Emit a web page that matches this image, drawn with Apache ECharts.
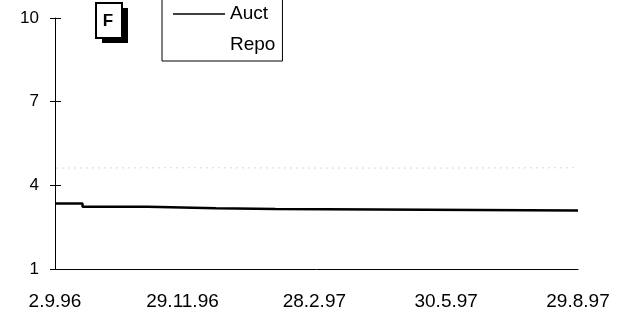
<!DOCTYPE html>
<html>
<head>
<meta charset="utf-8">
<script src="https://cdn.jsdelivr.net/npm/echarts@6/dist/echarts.min.js"></script>
<style>
    html, body { margin: 0; padding: 0; background: #fff; }
    #chart { width: 623px; height: 318px; }
</style>
</head>
<body>
<div id="chart"></div>
<script>
    // days counted from 2.9.96
    var tickDays = [0, 88, 179, 270, 361];
    var tickLabels = ['2.9.96', '29.11.96', '28.2.97', '30.5.97', '29.8.97'];

    // Auct: step line, value changes at these days
    var auctDays = [0, 19, 64, 111, 152, 361];
    var auctValues = [3.35, 3.23, 3.18, 3.15, 3.10, 3.10];

    // Repo: faint dotted line
    var repoDays = [1, 90, 180, 270, 358];
    var repoValues = [4.62, 4.63, 4.62, 4.62, 4.63];

    var yTicks = [1, 4, 7, 10];

    function pairs(xs, ys) {
        return xs.map(function (x, i) { return [x, ys[i]]; });
    }

    var font = '"Liberation Sans", Arial, sans-serif';

    var chart = echarts.init(document.getElementById('chart'));
    chart.setOption({
        animation: false,
        grid: { left: 55, right: 45, top: 18, bottom: 49 },
        legend: {
            orient: 'vertical',
            left: 162,
            top: -6,
            padding: [10, 7, 6, 10],
            itemWidth: 52,
            itemHeight: 14,
            itemGap: 11,
            borderColor: '#000',
            borderWidth: 1,
            itemStyle: { opacity: 0 },
            textStyle: { fontFamily: font, fontSize: 19, color: '#000', lineHeight: 20 },
            data: [
                { name: 'Auct', lineStyle: { width: 1.5 } },
                { name: 'Repo', lineStyle: { opacity: 0 } }
            ]
        },
        xAxis: {
            type: 'value',
            min: 0,
            max: tickDays[tickDays.length - 1],
            splitLine: { show: false },
            axisTick: { show: false },
            axisLine: { lineStyle: { color: '#000', width: 1 } },
            axisLabel: {
                customValues: tickDays,
                margin: 23,
                color: '#000',
                fontFamily: font,
                fontSize: 19,
                formatter: function (v) {
                    var i = tickDays.indexOf(v);
                    return i >= 0 ? tickLabels[i] : '';
                }
            }
        },
        yAxis: [{
            type: 'value',
            min: yTicks[0],
            max: yTicks[yTicks.length - 1],
            interval: 3,
            splitLine: { show: false },
            axisLine: { show: true, onZero: false, lineStyle: { color: '#000', width: 1 } },
            axisTick: { show: true, length: 5, lineStyle: { color: '#000' } },
            axisLabel: { margin: 16, color: '#000', fontFamily: font, fontSize: 17 }
        }, {
            type: 'value',
            position: 'left',
            min: yTicks[0],
            max: yTicks[yTicks.length - 1],
            interval: 3,
            splitLine: { show: false },
            axisLine: { show: false },
            axisTick: { show: true, inside: true, length: 6, lineStyle: { color: '#000' } },
            axisLabel: { show: false }
        }],
        series: [{
            name: 'Auct',
            type: 'line',
            step: 'end',
            symbol: 'none',
            lineStyle: { color: '#000', width: 2.5 },
            itemStyle: { color: '#000' },
            data: pairs(auctDays, auctValues)
        }, {
            name: 'Repo',
            type: 'line',
            symbol: 'none',
            lineStyle: { color: '#b0b0b0', width: 1, type: [1, 5] },
            itemStyle: { color: '#b0b0b0' },
            data: pairs(repoDays, repoValues)
        }],
        graphic: [{
            type: 'rect',
            shape: { x: 102, y: 8, width: 26, height: 35 },
            style: { fill: '#000' }
        }, {
            type: 'rect',
            shape: { x: 96, y: 3, width: 26, height: 35 },
            style: { fill: '#fff', stroke: '#000', lineWidth: 2 }
        }, {
            type: 'text',
            x: 108,
            y: 21,
            style: {
                text: 'F',
                fill: '#000',
                font: 'bold 17px ' + font,
                align: 'center',
                verticalAlign: 'middle'
            }
        }]
    });
</script>
</body>
</html>
